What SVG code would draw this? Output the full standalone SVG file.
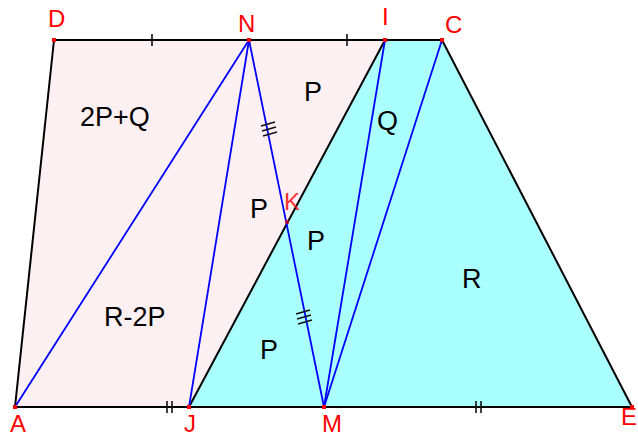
<svg xmlns="http://www.w3.org/2000/svg" width="638" height="437" viewBox="0 0 638 437">
<style>
.lbl{font-family:"Liberation Sans",Arial,sans-serif;font-size:24px;fill:#ff0000}
.area{font-family:"Liberation Sans",Arial,sans-serif;font-size:27px;fill:#000}
.edge{stroke:#000;stroke-width:2;fill:none}
.blue{stroke:#0000ff;stroke-width:1.8;fill:none}
.tick{stroke:#111;stroke-width:1.6;fill:none}
.pt{fill:#ff0000}
</style>
<rect width="638" height="437" fill="#fff"/>
<g id="regions">
<polygon points="15,407 54,40 385,40 189,407" fill="#fdf0f3"/>
<polygon points="189,407 385,40 442,40 632,407" fill="#aaffff"/>
</g>
<g id="connectors">
<line class="edge" x1="54" y1="40" x2="442" y2="40" stroke="#301030"/>
<line class="edge" x1="15" y1="407" x2="632" y2="407"/>
<line class="edge" x1="15" y1="407" x2="54" y2="40"/>
<line class="edge" x1="442" y1="40" x2="632" y2="407"/>
<line class="edge" x1="189" y1="407" x2="385" y2="40"/>
<line class="blue" x1="15" y1="407" x2="249" y2="40"/>
<line class="blue" x1="189" y1="407" x2="249" y2="40"/>
<line class="blue" x1="324" y1="407" x2="249" y2="40"/>
<line class="blue" x1="324" y1="407" x2="385" y2="40"/>
<line class="blue" x1="324" y1="407" x2="442" y2="40"/>
<path class="tick" d="M152,34V46M347,34V46"/>
<path class="tick" d="M167,401V413M172,401V413M476,401V413M481,401V413"/>
<path class="tick" d="M261,126L275,122M262,131L276,127M263,136L277,132"/>
<path class="tick" d="M296,314L310,310M297,319L311,315M298,324L312,320"/>
</g>
<g id="points">
<rect class="pt" x="52" y="38" width="4" height="4"/>
<rect class="pt" x="247" y="38" width="4" height="4"/>
<rect class="pt" x="383" y="38" width="4" height="4"/>
<rect class="pt" x="440" y="38" width="4" height="4"/>
<rect class="pt" x="13" y="405" width="4" height="4"/>
<rect class="pt" x="187" y="405" width="4" height="4"/>
<rect class="pt" x="322" y="405" width="4" height="4"/>
<rect class="pt" x="630" y="405" width="4" height="4"/>
<rect class="pt" x="285" y="220" width="4" height="4" opacity="0.6"/>
</g>
<g id="labels">
<text class="lbl" x="48" y="27">D</text>
<text class="lbl" x="238" y="32">N</text>
<text class="lbl" x="382" y="25">I</text>
<text class="lbl" x="445" y="33">C</text>
<text class="lbl" x="10" y="432">A</text>
<text class="lbl" x="184" y="432">J</text>
<text class="lbl" x="322" y="432">M</text>
<text class="lbl" x="621" y="425">E</text>
<text class="lbl" x="284" y="210" font-size="22" opacity="0.8">K</text>
</g>
<g id="areas">
<text class="area" x="80" y="126">2P+Q</text>
<text class="area" x="304" y="101">P</text>
<text class="area" x="377" y="130">Q</text>
<text class="area" x="250" y="218">P</text>
<text class="area" x="307" y="250">P</text>
<text class="area" x="462" y="288">R</text>
<text class="area" x="104" y="326">R-2P</text>
<text class="area" x="260" y="359">P</text>
</g>
</svg>
